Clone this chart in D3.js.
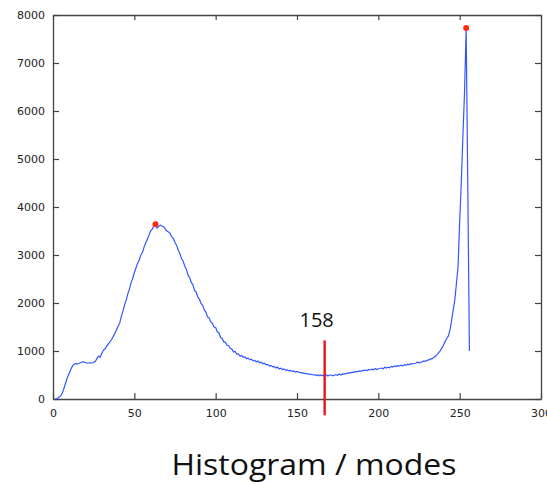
<!DOCTYPE html>
<html>
<head>
<meta charset="utf-8">
<script src="https://cdn.jsdelivr.net/npm/d3@7"></script>
<style>
body { margin: 0; background: #fff; }
.tick text { font-family: "DejaVu Sans", sans-serif; font-size: 11px; fill: #222; }
</style>
</head>
<body>
<div id="chart"></div>
<script>
// histogram counts, bins 1..256
var firstBin = 1;
var counts = [
  0, 5, 20, 45, 80, 150, 250, 360, 460, 540,
  620, 690, 725, 735, 730, 745, 755, 775, 770, 760,
  745, 750, 755, 750, 765, 780, 840, 895, 870, 950,
  1020, 1045, 1100, 1150, 1190, 1240, 1300, 1370, 1440, 1510,
  1580, 1720, 1830, 1960, 2060, 2190, 2290, 2420, 2510, 2630,
  2730, 2830, 2890, 3000, 3050, 3170, 3250, 3330, 3410, 3500,
  3540, 3610, 3640, 3560, 3600, 3620, 3605, 3590, 3545, 3500,
  3480, 3450, 3380, 3340, 3260, 3200, 3100, 3030, 2920, 2870,
  2770, 2700, 2580, 2530, 2430, 2380, 2260, 2230, 2120, 2080,
  1990, 1950, 1860, 1810, 1710, 1690, 1600, 1580, 1500, 1490,
  1400, 1380, 1280, 1260, 1190, 1180, 1120, 1110, 1050, 1040,
  980, 990, 930, 940, 890, 905, 870, 875, 840, 850,
  815, 830, 795, 805, 775, 790, 755, 765, 735, 745,
  710, 720, 685, 700, 670, 680, 645, 665, 625, 640,
  615, 625, 600, 605, 585, 595, 575, 585, 560, 575,
  560, 550, 550, 535, 535, 525, 525, 510, 515, 500,
  505, 490, 505, 485, 500, 485, 500, 505, 480, 500,
  500, 485, 500, 505, 495, 520, 500, 525, 520, 535,
  530, 550, 545, 560, 555, 575, 565, 585, 575, 595,
  590, 605, 590, 615, 605, 620, 610, 635, 615, 630,
  635, 645, 630, 660, 645, 665, 650, 680, 665, 690,
  675, 695, 685, 705, 690, 715, 700, 725, 710, 735,
  730, 740, 745, 770, 750, 770, 775, 795, 785, 805,
  815, 830, 840, 860, 890, 920, 960, 1000, 1060, 1120,
  1190, 1260, 1310, 1430, 1620, 1850, 2060, 2400, 2750, 3700,
  4500, 5500, 6400, 7730, 4400, 1000
];
var modeBins = [63, 254];      // the two modes (red dots)
var thresholdBin = 167;        // where the red line is drawn
var thresholdLabel = "158";
var lineTop = 1220, lineBottom = -340; // red line runs below the axis
var xTicks = [0, 50, 100, 150, 200, 250, 300];
var yTicks = [0, 1000, 2000, 3000, 4000, 5000, 6000, 7000, 8000];
var title = "Histogram / modes";

var w = 547, h = 484;
var padL = 53, padR = 541, padT = 15, padB = 399; // plot box edges (top is a window global, so not used)

var data = counts.map(function(c, i){ return {bin: firstBin + i, count: c}; });

var svg = d3.select("#chart").append("svg")
    .attr("width", w)
    .attr("height", h);

var xScale = d3.scaleLinear().domain([0, 300]).range([padL, padR]);
var yScale = d3.scaleLinear().domain([0, 8000]).range([padB, padT]);

// axes, matlab style: ticks inward, box all round
var axisColor = "#444";
function styleAxis(g){
    g.select(".domain").attr("stroke", axisColor).attr("stroke-width", 1.3);
    g.selectAll(".tick line").attr("stroke", axisColor).attr("stroke-width", 1.2);
}
svg.append("g")
    .attr("transform", "translate(0," + padB + ")")
    .call(d3.axisBottom(xScale).tickValues(xTicks).tickSizeInner(-6).tickSizeOuter(0).tickPadding(10))
    .call(styleAxis);
svg.append("g")
    .attr("transform", "translate(0," + padT + ")")
    .call(d3.axisTop(xScale).tickValues(xTicks).tickSizeInner(-5).tickSizeOuter(0).tickFormat(""))
    .call(styleAxis);
svg.append("g")
    .attr("transform", "translate(" + padL + ",0)")
    .call(d3.axisLeft(yScale).tickValues(yTicks).tickFormat(d3.format("d")).tickSizeInner(-6).tickSizeOuter(0).tickPadding(8))
    .call(styleAxis);
svg.append("g")
    .attr("transform", "translate(" + padR + ",0)")
    .call(d3.axisRight(yScale).tickValues(yTicks).tickSizeInner(-6).tickSizeOuter(0).tickFormat(""))
    .call(styleAxis);

// histogram line
var line = d3.line()
    .x(function(d){ return xScale(d.bin); })
    .y(function(d){ return yScale(d.count); });
svg.append("path")
    .datum(data)
    .attr("fill", "none")
    .attr("stroke", "#3357ff")
    .attr("stroke-width", 1.2)
    .attr("d", line);

// modes
svg.selectAll("circle.mode")
    .data(modeBins)
    .enter().append("circle")
    .attr("class", "mode")
    .attr("cx", function(b){ return xScale(b); })
    .attr("cy", function(b){ return yScale(counts[b - firstBin]); })
    .attr("r", 3)
    .attr("fill", "#ff2a10");

// threshold
svg.append("line")
    .attr("x1", xScale(thresholdBin)).attr("x2", xScale(thresholdBin))
    .attr("y1", yScale(lineTop)).attr("y2", yScale(lineBottom))
    .attr("stroke", "#e8141c")
    .attr("stroke-width", 2.4);
svg.append("text")
    .attr("x", xScale(thresholdBin) - 8)
    .attr("y", yScale(1500))
    .attr("text-anchor", "middle")
    .style("font-family", "'Open Sans', sans-serif")
    .style("font-size", "20px")
    .attr("fill", "#111")
    .text(thresholdLabel);

svg.append("text")
    .attr("x", 314)
    .attr("y", 475)
    .attr("text-anchor", "middle")
    .attr("textLength", 285)
    .attr("lengthAdjust", "spacingAndGlyphs")
    .style("font-family", "'Open Sans', sans-serif")
    .style("font-size", "29px")
    .attr("fill", "#111")
    .text(title);
</script>
</body>
</html>
